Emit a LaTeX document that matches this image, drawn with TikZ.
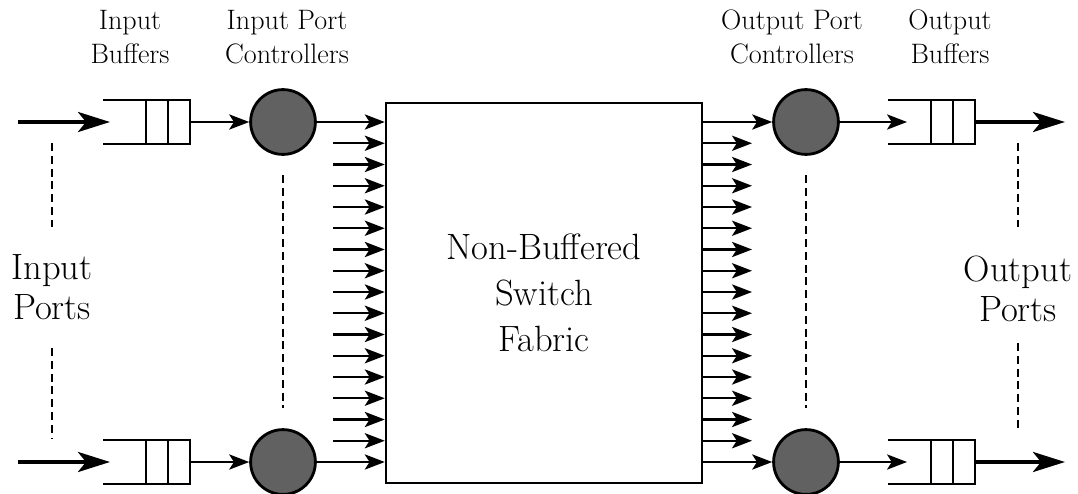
\documentclass[tikz,border=0pt]{standalone}
\usepackage{tikz}
\usetikzlibrary{positioning, arrows.meta}

\begin{document}
\begin{tikzpicture}[
  x=0.025cm, y=-0.025cm,
  ctrl/.style={circle, draw, line width=2pt, fill=black!62, minimum size=1.62cm, inner sep=0pt},
  cell/.style={rectangle, draw, line width=1.4pt, minimum width=0.55cm, minimum height=1.1cm, inner sep=0pt, outer sep=0pt},
  wall/.style={line width=1.4pt},
  fabric/.style={rectangle, draw, line width=1.7pt, minimum width=7.9cm, minimum height=9.5cm, align=center, font=\fontsize{26}{32.7}\selectfont},
  link/.style={line width=1.5pt, -{Stealth[length=0.5cm, width=0.38cm, inset=0.12cm]}},
  port/.style={line width=2.8pt, -{Stealth[length=0.8cm, width=0.5cm, inset=0.2cm]}},
  guide/.style={line width=1.3pt, dash pattern=on 0.2cm off 0.12cm},
  small/.style={align=center, font=\fontsize{20}{24.2}\selectfont},
  big/.style={align=center, font=\fontsize{26}{28.5}\selectfont}
]
  \useasboundingbox (0,0) rectangle (1078,493);

  \node[small] (lib) at (130,37) {Input\\Buffers};
  \node[small] (lipc) at (287,37) {Input Port\\Controllers};
  \node[small] (lopc) at (792,37) {Output Port\\Controllers};
  \node[small] (lob) at (950,37) {Output\\Buffers};

  \node[big] (lin) at (52,287) {Input\\Ports};
  \node[big] (lout) at (1018,289) {Output\\Ports};

  \node[fabric] (box) at (544,293) {Non-Buffered\\Switch\\Fabric};

  % Input side, first and last port.
  \node[cell] (ib1a) at (157,122) {};
  \node[cell, right=0pt of ib1a] (ib1b) {};
  \node[cell] (ib2a) at (157,462) {};
  \node[cell, right=0pt of ib2a] (ib2b) {};
  \draw[wall] (ib1a.north west) -- ++(-43,0);
  \draw[wall] (ib1a.south west) -- ++(-43,0);
  \draw[wall] (ib2a.north west) -- ++(-43,0);
  \draw[wall] (ib2a.south west) -- ++(-43,0);

  \node[ctrl] (ic1) at (283,122) {};
  \node[ctrl] (ic2) at (283,462) {};

  \coordinate (in1) at (18,122);
  \coordinate (in2) at (18,462);
  \coordinate (ib1in) at (110,122);
  \coordinate (ib2in) at (110,462);

  \draw[port] (in1) -- (ib1in);
  \draw[port] (in2) -- (ib2in);
  \draw[link] (ib1b) -- (ic1);
  \draw[link] (ib2b) -- (ic2);
  \draw[link] (ic1) -- (ic1 -| box.west);
  \draw[link] (ic2) -- (ic2 -| box.west);

  % Output side, first and last port.
  \node[ctrl] (oc1) at (806,122) {};
  \node[ctrl] (oc2) at (806,462) {};

  \node[cell] (ob1a) at (942,122) {};
  \node[cell, right=0pt of ob1a] (ob1b) {};
  \node[cell] (ob2a) at (942,462) {};
  \node[cell, right=0pt of ob2a] (ob2b) {};
  \draw[wall] (ob1a.north west) -- ++(-43,0);
  \draw[wall] (ob1a.south west) -- ++(-43,0);
  \draw[wall] (ob2a.north west) -- ++(-43,0);
  \draw[wall] (ob2a.south west) -- ++(-43,0);

  \coordinate (ob1in) at (907,122);
  \coordinate (ob2in) at (907,462);
  \coordinate (out1) at (1065,122);
  \coordinate (out2) at (1065,462);

  \draw[link] (oc1 -| box.east) -- (oc1);
  \draw[link] (oc2 -| box.east) -- (oc2);
  \draw[link] (oc1) -- (ob1in);
  \draw[link] (oc2) -- (ob2in);
  \draw[port] (ob1b) -- (out1);
  \draw[port] (ob2b) -- (out2);

  % Lines into and out of the fabric.
  \foreach \i in {1,...,15} {
    \coordinate (l\i) at (333,122+21.25*\i);
    \coordinate (r\i) at (752,122+21.25*\i);
    \draw[link] (l\i) -- (l\i -| box.west);
    \draw[link] (r\i -| box.east) -- (r\i);
  }

  % Dashed guides between first and last port.
  \coordinate (g1a) at (52,143);
  \coordinate (g1b) at (52,227);
  \coordinate (g2a) at (52,348);
  \coordinate (g2b) at (52,438);
  \coordinate (g3a) at (283,175);
  \coordinate (g3b) at (283,408);
  \coordinate (g4a) at (806,175);
  \coordinate (g4b) at (806,408);
  \coordinate (g5a) at (1018,143);
  \coordinate (g5b) at (1018,227);
  \coordinate (g6a) at (1018,343);
  \coordinate (g6b) at (1018,430);
  \draw[guide] (g1a) -- (g1b);
  \draw[guide] (g2a) -- (g2b);
  \draw[guide] (g3a) -- (g3b);
  \draw[guide] (g4a) -- (g4b);
  \draw[guide] (g5a) -- (g5b);
  \draw[guide] (g6a) -- (g6b);
\end{tikzpicture}
\end{document}
